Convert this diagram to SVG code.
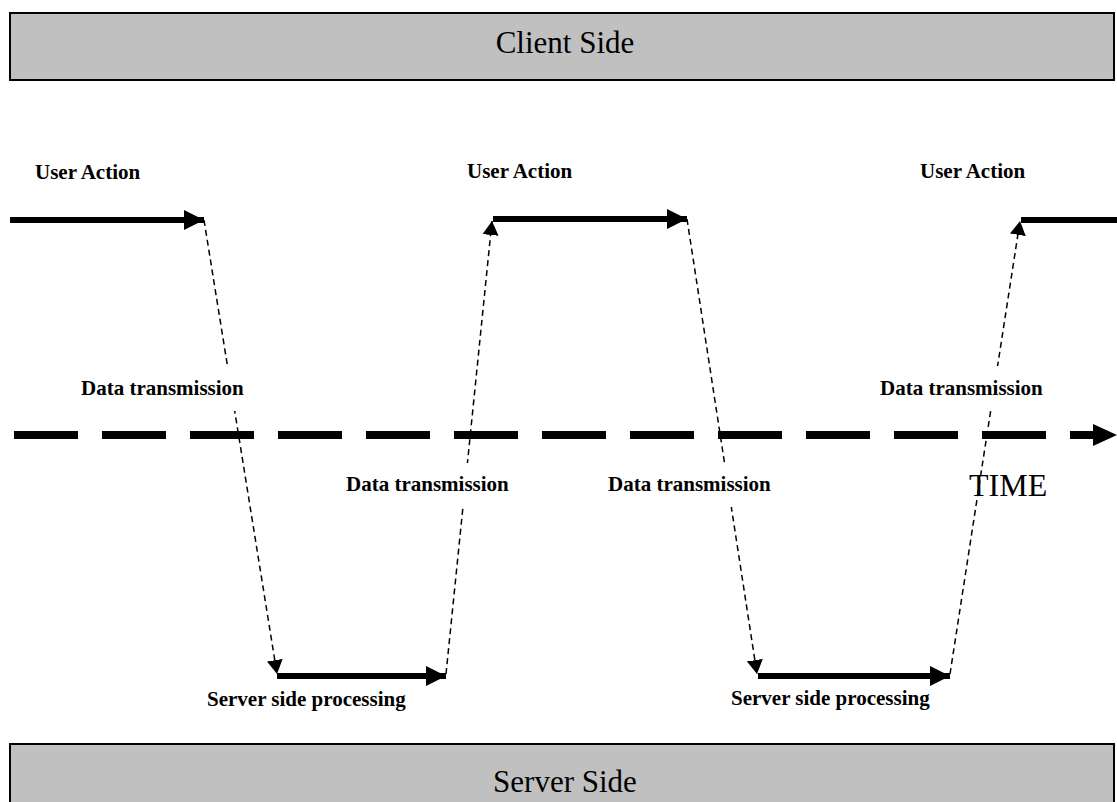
<svg xmlns="http://www.w3.org/2000/svg" width="1117" height="802" viewBox="0 0 1117 802">
  <style>
    .band { fill: #c0c0c0; stroke: #000; stroke-width: 2; }
    .band-text { font-family: "Liberation Serif", "Times New Roman", serif; font-size: 31px; fill: #000; text-anchor: middle; }
    .label { font-family: "Liberation Serif", "Times New Roman", serif; font-size: 21px; font-weight: bold; fill: #000; }
    .time { font-family: "Liberation Serif", "Times New Roman", serif; font-size: 32px; fill: #000; }
    .solid { stroke: #000; stroke-width: 6; fill: none; }
    .flow { stroke: #000; stroke-width: 1.5; stroke-dasharray: 6 4; fill: none; }
    .axis { stroke: #000; stroke-width: 8; stroke-dasharray: 64 24; fill: none; }
    .pad { fill: #fff; }
  </style>
  <defs>
    <marker id="headBig" markerUnits="userSpaceOnUse" markerWidth="20" markerHeight="20" refX="20" refY="10" orient="auto">
      <path d="M0,0 L20,10 L0,20 z" fill="#000"/>
    </marker>
    <marker id="headSmall" markerUnits="userSpaceOnUse" markerWidth="14" markerHeight="16" refX="14" refY="8" orient="auto">
      <path d="M0,0 L14,8 L0,16 z" fill="#000"/>
    </marker>
  </defs>

  <!-- client band -->
  <g id="client-side">
    <rect class="band" x="10" y="13" width="1104" height="67"/>
    <text class="band-text" x="565" y="53">Client Side</text>
  </g>

  <!-- server band -->
  <g id="server-side">
    <rect class="band" x="10" y="744" width="1104" height="70"/>
    <text class="band-text" x="565" y="792">Server Side</text>
  </g>

  <!-- time axis -->
  <g id="time-axis">
    <line class="axis" x1="14" y1="435" x2="1093" y2="435"/>
    <path d="M1093,424 L1117,435 L1093,446 z" fill="#000"/>
    <text class="time" x="969" y="496">TIME</text>
  </g>

  <g id="connectors">
    <!-- client-side activity -->
    <line class="solid" x1="10" y1="220" x2="204" y2="220" marker-end="url(#headBig)"/>
    <line class="solid" x1="493" y1="219" x2="687" y2="219" marker-end="url(#headBig)"/>
    <line class="solid" x1="1021" y1="220" x2="1117" y2="220"/>
    <!-- server-side activity -->
    <line class="solid" x1="277" y1="676" x2="446" y2="676" marker-end="url(#headBig)"/>
    <line class="solid" x1="758" y1="676" x2="950" y2="676" marker-end="url(#headBig)"/>
    <!-- transmissions -->
    <line class="flow" x1="204" y1="220" x2="277" y2="674" marker-end="url(#headSmall)"/>
    <line class="flow" x1="446" y1="674" x2="492" y2="221" marker-end="url(#headSmall)"/>
    <line class="flow" x1="687" y1="219" x2="757" y2="674" marker-end="url(#headSmall)"/>
    <line class="flow" x1="950" y1="674" x2="1020" y2="221" marker-end="url(#headSmall)"/>
  </g>

  <!-- labels -->
  <g id="user-action-1"><text class="label" x="35" y="179">User Action</text></g>
  <g id="user-action-2"><text class="label" x="467" y="178">User Action</text></g>
  <g id="user-action-3"><text class="label" x="920" y="178">User Action</text></g>

  <g id="transmission-1">
    <rect class="pad" x="75" y="366" width="175" height="45"/>
    <text class="label" x="81" y="395">Data transmission</text>
  </g>
  <g id="transmission-2">
    <rect class="pad" x="340" y="463" width="176" height="44"/>
    <text class="label" x="346" y="491">Data transmission</text>
  </g>
  <g id="transmission-3">
    <rect class="pad" x="602" y="463" width="176" height="44"/>
    <text class="label" x="608" y="491">Data transmission</text>
  </g>
  <g id="transmission-4">
    <rect class="pad" x="874" y="366" width="175" height="45"/>
    <text class="label" x="880" y="395">Data transmission</text>
  </g>

  <g id="server-processing-1"><text class="label" x="207" y="706">Server side processing</text></g>
  <g id="server-processing-2"><text class="label" x="731" y="705">Server side processing</text></g>
</svg>
